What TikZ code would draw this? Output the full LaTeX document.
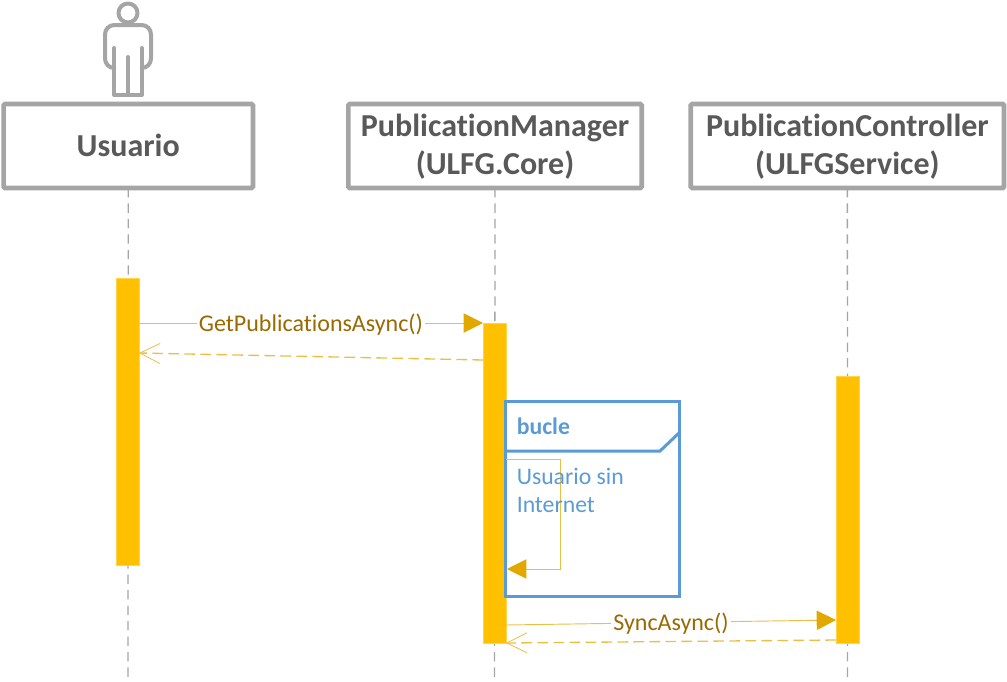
\documentclass[tikz,border=0pt]{standalone}
\usepackage{fontspec}
\setmainfont{Carlito}[Ligatures=NoCommon]
\usetikzlibrary{positioning, arrows.meta}
\definecolor{boxgray}{HTML}{A5A5A5}
\definecolor{textgray}{HTML}{595959}
\definecolor{bargold}{HTML}{FFC000}
\definecolor{linegold}{HTML}{EDBE45}
\definecolor{tipgold}{HTML}{E2A800}
\definecolor{labelbrown}{HTML}{996A00}
\definecolor{frameblue}{HTML}{5B9BD5}

\begin{document}
\begin{tikzpicture}[
    x=0.75pt, y=-0.75pt,
    head/.style={draw=boxgray, line width=3.5pt, rounded corners=1pt, minimum height=63pt, inner sep=0pt, outer sep=0pt, align=center, text=textgray, font=\fontsize{24}{28.5}\selectfont\bfseries},
    bar/.style={draw=bargold!70, fill=bargold, line width=0.5pt, minimum width=17pt, inner sep=0pt, outer sep=0pt},
    lifeline/.style={draw=boxgray, line width=1pt, dash pattern=on 7pt off 4.6pt},
    call/.style={draw=linegold, line width=0.7pt, -{Triangle[length=14.5pt, width=14.5pt, color=tipgold]}},
    answer/.style={draw=linegold, line width=1pt, dash pattern=on 8pt off 4pt, -{Straight Barb[length=15pt, width=15pt, line width=0.6pt]}},
    callname/.style={fill=white, inner sep=1.5pt, text=labelbrown, font=\fontsize{18}{20}\selectfont},
    framename/.style={inner sep=0pt, anchor=west, align=left, text=frameblue, font=\fontsize{17.8}{21}\selectfont},
    actor/.style={draw=boxgray, line width=3pt, line join=round, line cap=round}
]
\useasboundingbox (0,0) rectangle (1007,682);

% heads
\node[head, minimum width=187pt] (usuario) at (128.25,146) {\raisebox{1pt}{Usuario}};
\node[head, minimum width=220pt, right=71.6pt of usuario] (manager) {\rule{0pt}{18pt}PublicationManager\\(ULFG.Core)};
\node[head, minimum width=235pt, right=36.75pt of manager] (controller) {\rule{0pt}{18pt}PublicationController\\(ULFGService)};

% actor
\draw[actor] (128,13) circle (9.5);
\draw[actor, rounded corners=7pt] (114,68) -- (105,68) -- (105,25) -- (151,25) -- (151,68) -- (142,68);
\draw[actor] (114,48) -- (114,95) -- (142,95) -- (142,48);
\draw[actor] (128,57) -- (128,95);

% lifelines
\coordinate (usuarioEnd) at (128,677);
\coordinate (managerEnd) at (494.5,677);
\coordinate (controllerEnd) at (847.5,677);
\draw[lifeline] (usuario.south) -- (usuarioEnd);
\draw[lifeline] (manager.south) -- (managerEnd);
\draw[lifeline] (controller.south) -- (controllerEnd);

% bars
\node[bar, minimum height=215.25pt] (usuarioBar) at (127.5,421.5) {};
\node[bar, minimum height=240pt] (managerBar) at (494.5,483) {};
\node[bar, minimum height=200.25pt] (controllerBar) at (847.5,509.5) {};

% frame
\node[draw=frameblue, line width=2.25pt, minimum width=130.5pt, minimum height=146.25pt, inner sep=0pt, outer sep=0pt] (bucle) at (592,498.5) {};
\draw[draw=frameblue, line width=2.25pt] (505,451) -- (660,451) -- (679,433);

% calls
\coordinate (getStart) at (139,323);
\coordinate (getEnd) at (483,323);
\coordinate (getBackStart) at (483,360);
\coordinate (getBackEnd) at (139,353);
\coordinate (loopStart) at (506,459);
\coordinate (loopEnd) at (507,569);
\coordinate (syncStart) at (506,625);
\coordinate (syncEnd) at (836,620);
\coordinate (syncBackStart) at (836,640);
\coordinate (syncBackEnd) at (506,643);

\draw[call] (getStart) -- node[callname, yshift=-1pt] (getName) {GetPublicationsAsync()} (getEnd);
\draw[answer] (getBackStart) -- (getBackEnd);
\draw[call] (loopStart) -- ++(54,0) |- (loopEnd);
\draw[call] (syncStart) -- node[callname, yshift=-0.75pt] (syncName) {SyncAsync()} (syncEnd);
\draw[answer] (syncBackStart) -- (syncBackEnd);

% frame texts
\node[framename, font=\fontsize{17.8}{21}\selectfont\bfseries] (bucleName) at (516.5,426.5) {bucle};
\node[framename] (bucleText) at (516.5,490.5) {Usuario sin\\Internet};

\end{tikzpicture}
\end{document}
